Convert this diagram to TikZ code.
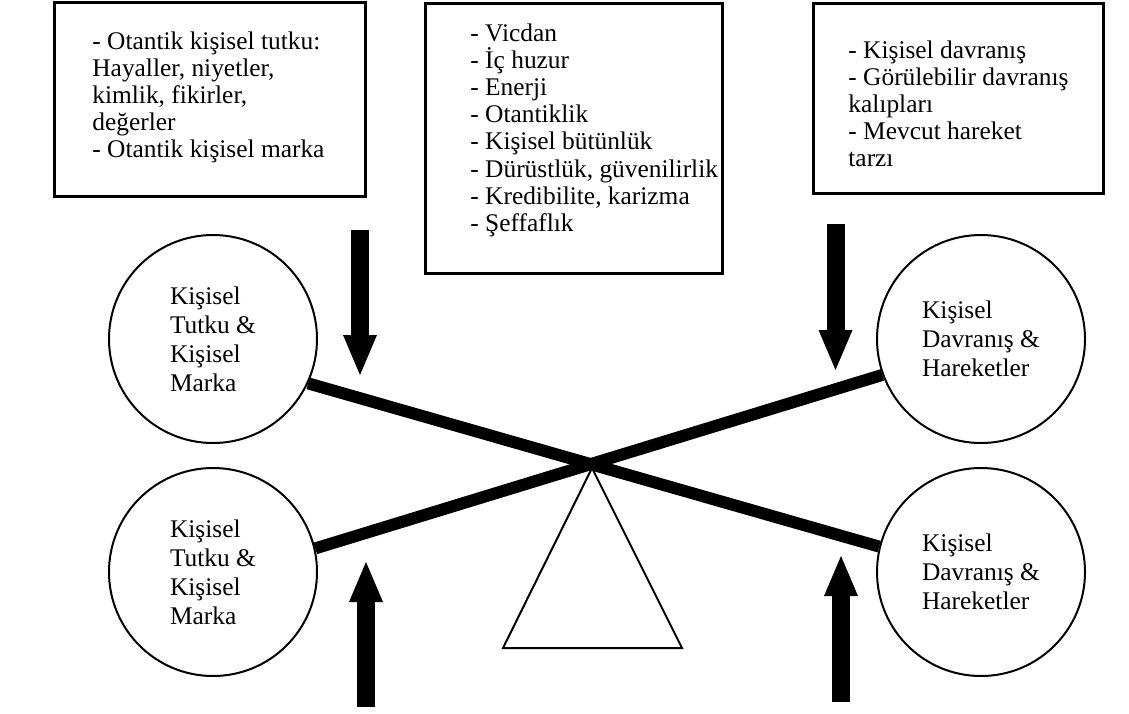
\documentclass[tikz,border=0pt]{standalone}
\usepackage{fontspec}
\setmainfont{Liberation Serif}
\usetikzlibrary{arrows.meta}

\begin{document}
\begin{tikzpicture}[x=0.5pt, y=-0.5pt]
    \tikzset{BoxStyle/.style    = {draw, line width=1.5pt, inner sep=0pt},
             ListStyle/.style   = {align=left, inner sep=0pt, anchor=north west,
                                   font=\fontsize{12.7pt}{13.6pt}\selectfont},
             CircleStyle/.style = {circle, draw, line width=1pt, fill=white,
                                   minimum size=104pt, inner sep=0pt, align=left,
                                   font=\fontsize{12.7pt}{14.5pt}\selectfont},
             BeamStyle/.style   = {line width=6pt},
             PushStyle/.style   = {line width=9pt,
                                   -{Triangle[length=20pt, width=17pt, line width=0pt]}}}
    \useasboundingbox (0,0) rectangle (1129,713);
    \node[BoxStyle, minimum width=155.5pt, minimum height=97pt] (passionbox) at (209.5,99) {};
    \node[ListStyle] (passiontext) at (92,31) {- Otantik kişisel tutku:\\Hayaller, niyetler,\\kimlik, fikirler,\\değerler\\- Otantik kişisel marka};
    \node[BoxStyle, minimum width=148.5pt, minimum height=135pt] (valuesbox) at (573.5,138) {};
    \node[ListStyle] (valuestext) at (470,23) {- Vicdan\\- İç huzur\\- Enerji\\- Otantiklik\\- Kişisel bütünlük\\- Dürüstlük, güvenilirlik\\- Kredibilite, karizma\\- Şeffaflık};
    \node[BoxStyle, minimum width=145pt, minimum height=95pt] (actionbox) at (958,98) {};
    \node[ListStyle] (actiontext) at (848,40) {- Kişisel davranış\\- Görülebilir davranış\\kalıpları\\- Mevcut hareket\\tarzı};
    \node[CircleStyle] (passionup) at (213,339) {Kişisel\\Tutku \&\\Kişisel\\Marka};
    \node[CircleStyle] (passiondown) at (213,572) {Kişisel\\Tutku \&\\Kişisel\\Marka};
    \node[CircleStyle] (actionup) at (981,339) {Kişisel\\Davranış \&\\Hareketler};
    \node[CircleStyle] (actiondown) at (981,572) {Kişisel\\Davranış \&\\Hareketler};
    \draw[BeamStyle] (passionup.-25) -- (actiondown.166);
    \draw[BeamStyle] (passiondown.13) -- (actionup.200);
    \coordinate (pivot) at (592,468);
    \coordinate (baseleft) at (503,648);
    \coordinate (baseright) at (682,648);
    \draw[line width=1pt] (pivot) -- (baseleft) -- (baseright) -- cycle;
    \coordinate (passionfrom) at (360,230);
    \coordinate (passionto) at (360,375);
    \coordinate (actionfrom) at (835.5,224);
    \coordinate (actionto) at (835.5,370);
    \coordinate (brandfrom) at (366,707);
    \coordinate (brandto) at (366,562);
    \coordinate (habitfrom) at (841,702);
    \coordinate (habitto) at (841,556);
    \draw[PushStyle] (passionfrom) -- (passionto);
    \draw[PushStyle] (actionfrom) -- (actionto);
    \draw[PushStyle] (brandfrom) -- (brandto);
    \draw[PushStyle] (habitfrom) -- (habitto);
\end{tikzpicture}
\end{document}
